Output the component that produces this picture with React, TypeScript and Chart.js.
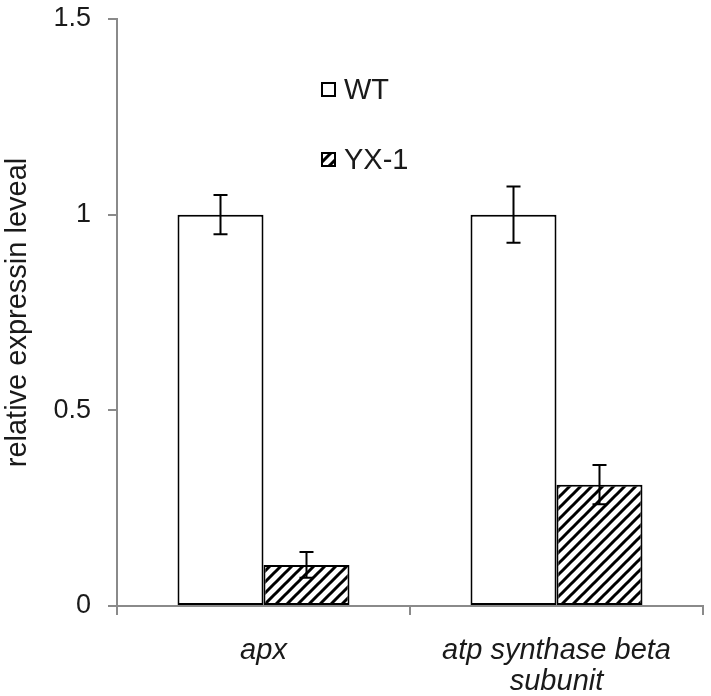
import React, { useEffect, useRef } from "react";
import { Chart, registerables } from "chart.js";

Chart.register(...registerables);

const categories: string[][] = [["apx"], ["atp synthase beta", "subunit"]];
const seriesNames = ["WT", "YX-1"];
const wtValues = [1, 1];
const wtErrors = [0.05, 0.072];
const yxValues = [0.105, 0.31];
const yxErrors = [0.033, 0.05];
const yTicks = [0, 0.5, 1, 1.5];
const yTitle = "relative expressin leveal";

const FONT = "'Liberation Sans', Arial, sans-serif";
const TEXT = "#1a1a1a";
const AXIS = "#8a8a8a";

function makeHatch(): CanvasPattern | string {
  const c = document.createElement("canvas");
  const s = 11;
  c.width = s;
  c.height = s;
  const ctx = c.getContext("2d");
  if (!ctx) return "#000";
  ctx.fillStyle = "#fff";
  ctx.fillRect(0, 0, s, s);
  ctx.strokeStyle = "#000";
  ctx.lineWidth = 3;
  ctx.beginPath();
  ctx.moveTo(-2, s + 2);
  ctx.lineTo(s + 2, -2);
  ctx.moveTo(-2, 2);
  ctx.lineTo(2, -2);
  ctx.moveTo(s - 2, s + 2);
  ctx.lineTo(s + 2, s - 2);
  ctx.stroke();
  const p = ctx.createPattern(c, "repeat");
  return p || "#000";
}

export default function App() {
  const ref = useRef<HTMLCanvasElement | null>(null);

  useEffect(() => {
    document.body.style.margin = "0";
    const canvas = ref.current;
    if (!canvas) return;
    const hatch = makeHatch();
    const errors = [wtErrors, yxErrors];

    const errorBars = {
      id: "errorBars",
      afterDatasetsDraw(chart: any) {
        const ctx = chart.ctx;
        const y = chart.scales.y;
        ctx.save();
        ctx.strokeStyle = "#000";
        ctx.lineWidth = 2;
        chart.data.datasets.forEach((ds: any, di: number) => {
          const meta = chart.getDatasetMeta(di);
          meta.data.forEach((bar: any, i: number) => {
            const v = ds.data[i];
            const e = errors[di][i];
            const x = bar.x;
            const y1 = y.getPixelForValue(v + e);
            const y2 = y.getPixelForValue(v - e);
            const cap = 7;
            ctx.beginPath();
            ctx.moveTo(x, y1);
            ctx.lineTo(x, y2);
            ctx.moveTo(x - cap, y1);
            ctx.lineTo(x + cap, y1);
            ctx.moveTo(x - cap, y2);
            ctx.lineTo(x + cap, y2);
            ctx.stroke();
          });
        });
        ctx.restore();
      },
    };

    const customLegend = {
      id: "customLegend",
      afterDraw(chart: any) {
        const ctx = chart.ctx;
        ctx.save();
        const items = [
          { label: seriesNames[0], fill: "#fff", x: 322, y: 83 },
          { label: seriesNames[1], fill: hatch, x: 322, y: 153 },
        ];
        items.forEach((it) => {
          ctx.fillStyle = it.fill as any;
          ctx.fillRect(it.x, it.y, 13, 13);
          ctx.strokeStyle = "#000";
          ctx.lineWidth = 2;
          ctx.strokeRect(it.x, it.y, 13, 13);
          ctx.fillStyle = TEXT;
          ctx.font = `29px ${FONT}`;
          ctx.textBaseline = "middle";
          ctx.textAlign = "left";
          ctx.fillText(it.label, it.x + 22, it.y + 8);
        });
        ctx.restore();
      },
    };

    const chart = new Chart(canvas, {
      type: "bar",
      data: {
        labels: categories,
        datasets: [
          {
            label: seriesNames[0],
            data: wtValues,
            backgroundColor: "#fff",
            borderColor: "#000",
            borderWidth: 2,
            borderSkipped: false,
            categoryPercentage: 0.587,
            barPercentage: 1,
          },
          {
            label: seriesNames[1],
            data: yxValues,
            backgroundColor: hatch as any,
            borderColor: "#000",
            borderWidth: 2,
            borderSkipped: false,
            categoryPercentage: 0.587,
            barPercentage: 1,
          },
        ],
      },
      options: {
        animation: false,
        responsive: false,
        devicePixelRatio: 1,
        layout: { padding: { top: 19, right: 8, left: 0, bottom: 0 } },
        plugins: {
          legend: { display: false },
          tooltip: { enabled: false },
        },
        scales: {
          x: {
            offset: true,
            grid: {
              offset: true,
              drawOnChartArea: false,
              drawTicks: true,
              tickLength: 9,
              color: AXIS,
              lineWidth: 2,
            },
            border: { color: AXIS, width: 2 },
            ticks: {
              color: TEXT,
              font: { family: FONT, size: 29, style: "italic", lineHeight: 1.07 },
              padding: 20,
              maxRotation: 0,
              autoSkip: false,
            },
            afterFit(scale: any) {
              scale.height = 90;
              scale.paddingLeft = 0;
              scale.paddingRight = 0;
            },
          },
          y: {
            min: 0,
            max: 1.5,
            afterBuildTicks(scale: any) {
              scale.ticks = yTicks.map((v) => ({ value: v }));
            },
            grid: {
              drawOnChartArea: false,
              drawTicks: true,
              tickLength: 9,
              color: AXIS,
              lineWidth: 2,
            },
            border: { color: AXIS, width: 2 },
            ticks: {
              color: TEXT,
              font: { family: FONT, size: 27 },
              padding: 17,
              callback: (v: any) => String(v),
            },
            title: {
              display: true,
              text: yTitle,
              color: TEXT,
              font: { family: FONT, size: 29, lineHeight: 1.2 },
              padding: { top: 1, bottom: 0 },
            },
            afterFit(scale: any) {
              scale.width = 117;
              scale.paddingTop = 0;
              scale.paddingBottom = 0;
            },
          },
        },
      },
      plugins: [errorBars, customLegend],
    });
    return () => chart.destroy();
  }, []);

  return (
    <div style={{ position: "absolute", left: 0, top: 0, width: 711, height: 696 }}>
      <canvas ref={ref} width={711} height={696} style={{ width: 711, height: 696 }} />
    </div>
  );
}
